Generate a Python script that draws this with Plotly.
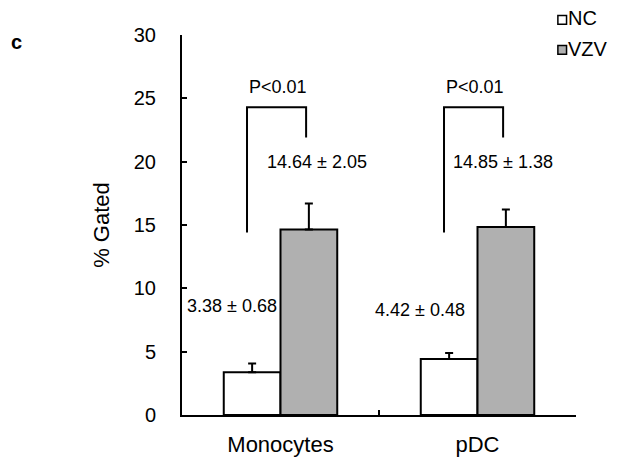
import plotly.graph_objects as go

# ---- data ----
categories = ["Monocytes", "pDC"]
nc_means = [3.38, 4.42]
nc_sd = [0.68, 0.48]
vzv_means = [14.64, 14.85]
vzv_sd = [2.05, 1.38]
p_labels = ["P<0.01", "P<0.01"]
y_ticks = [0, 5, 10, 15, 20, 25, 30]

FONT = "Liberation Sans, Arial, sans-serif"

fig = go.Figure()
fig.add_trace(go.Bar(
    name="NC", x=categories, y=nc_means,
    marker=dict(color="white", line=dict(color="black", width=2)),
    error_y=dict(type="data", array=nc_sd, arrayminus=[0] * len(nc_sd), symmetric=False,
                 color="black", thickness=2, width=4),
    showlegend=False,
))
fig.add_trace(go.Bar(
    name="VZV", x=categories, y=vzv_means,
    marker=dict(color="#b0b0b0", line=dict(color="black", width=2)),
    error_y=dict(type="data", array=vzv_sd, arrayminus=[0] * len(vzv_sd), symmetric=False,
                 color="black", thickness=2, width=4),
    showlegend=False,
))

# brackets and value labels
BR_TOP, BR_LEFT_BOTTOM, BR_RIGHT_BOTTOM = 24.3, 14.4, 21.9
BR_L, BR_R = -0.17, 0.13
for i, cat in enumerate(categories):
    xl, xr = i + BR_L, i + BR_R
    fig.add_shape(type="path",
                  path=f"M {xl},{BR_LEFT_BOTTOM} L {xl},{BR_TOP} L {xr},{BR_TOP} L {xr},{BR_RIGHT_BOTTOM}",
                  xref="x", yref="y", line=dict(color="black", width=2))
    fig.add_annotation(x=(xl + xr) / 2 + 0.005, y=25.9, text=p_labels[i], showarrow=False,
                       font=dict(family=FONT, size=18, color="black"))

vzv_label_x = [-0.081, -0.136]
nc_label_x = [-0.245, -0.29]
nc_label_y = [8.6, 8.3]
for i, cat in enumerate(categories):
    fig.add_annotation(x=i + vzv_label_x[i], y=20.0, xanchor="left",
                       text=f"{vzv_means[i]:.2f} ± {vzv_sd[i]:.2f}", showarrow=False,
                       font=dict(family=FONT, size=18, color="black"))
    fig.add_annotation(x=i + nc_label_x[i], y=nc_label_y[i],
                       text=f"{nc_means[i]:.2f} ± {nc_sd[i]:.2f}", showarrow=False,
                       font=dict(family=FONT, size=18, color="black"))

# legend (drawn manually)
legend_items = [("NC", "white", 1.040, 1.045), ("VZV", "#b0b0b0", 0.961, 0.963)]
for name, col, ybox, ytxt in legend_items:
    fig.add_shape(type="rect", xref="paper", yref="paper",
                  x0=0.954, x1=0.976, y0=ybox - 0.0115, y1=ybox + 0.0115,
                  fillcolor=col, line=dict(color="black", width=1.5))
    fig.add_annotation(xref="paper", yref="paper", x=0.975, y=ytxt,
                       xanchor="left", yanchor="middle",
                       text=name, showarrow=False,
                       font=dict(family=FONT, size=20, color="black"))

# panel letter
fig.add_annotation(xref="paper", yref="paper", x=-0.421, y=0.982,
                   xanchor="center", yanchor="middle", text="<b>c</b>",
                   showarrow=False, font=dict(family=FONT, size=20, color="black"))

fig.update_layout(
    width=610, height=451,
    template="none",
    paper_bgcolor="white", plot_bgcolor="white",
    margin=dict(l=174, r=42, t=27, b=44, pad=0),
    barmode="group", bargap=0.424, bargroupgap=0,
    font=dict(family=FONT, color="black"),
    showlegend=False,
    xaxis=dict(
        type="category", range=[-0.5, 1.5],
        showline=True, linecolor="black", linewidth=2,
        ticks="inside", tickson="boundaries", ticklen=5, tickwidth=1.5, tickcolor="black",
        tickfont=dict(family=FONT, size=22, color="black"),
        ticklabelstandoff=9,
        showgrid=False, zeroline=False, automargin=False,
    ),
    yaxis=dict(
        range=[0, 30], tickvals=y_ticks,
        showline=True, linecolor="black", linewidth=2,
        ticks="inside", ticklen=5, tickwidth=1.5, tickcolor="black",
        tickfont=dict(family=FONT, size=20, color="black"),
        ticklabelstandoff=20,
        title=dict(text="% Gated", font=dict(family=FONT, size=22, color="black"), standoff=18),
        showgrid=False, zeroline=False, automargin=False,
    ),
)

fig.write_html("out.html")
